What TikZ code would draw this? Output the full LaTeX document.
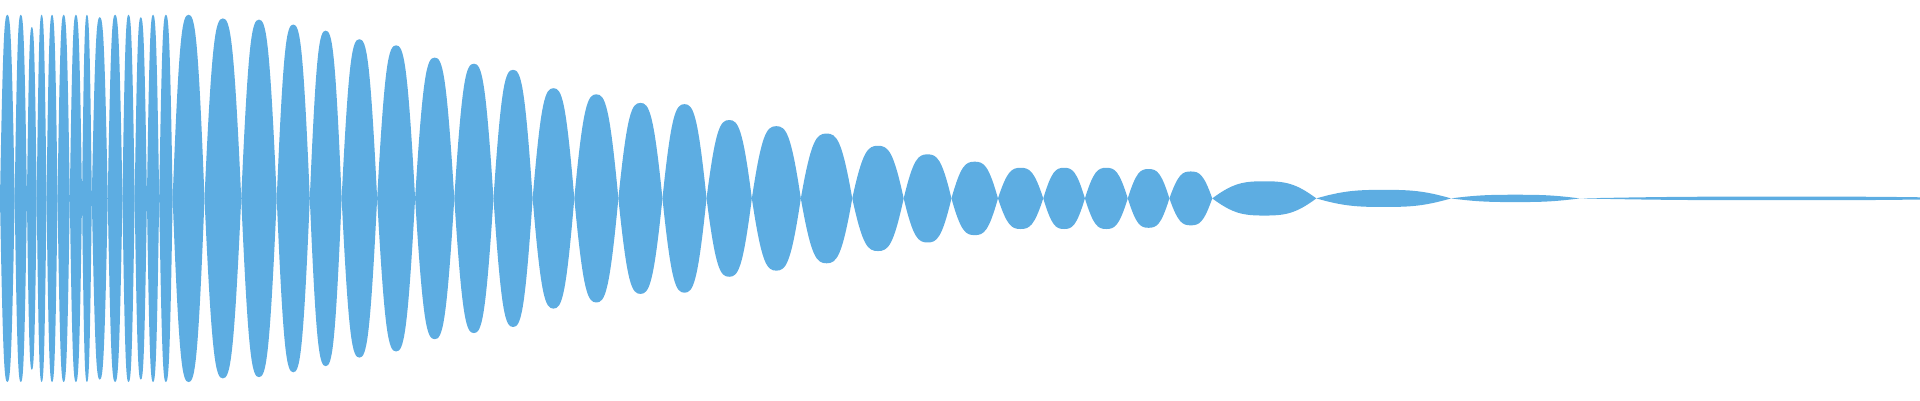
\documentclass[tikz,border=0pt]{standalone}
\usepackage{tikz}
\definecolor{wave}{HTML}{5DADE2}
\tikzset{lobe/.style={fill=wave}}

\begin{document}
\begin{tikzpicture}[x=0.1mm, y=0.1mm]
        % frame of the picture
        \useasboundingbox (0,0) rectangle (1920,400);

        % lobes of the decaying wave
        \begin{scope}[shift={(0,201.6)}, scale=1.2245]
            \foreach \a/\b/\h in {0/12/150, 12/22/150, 22/30/140, 30/38/150, 38/47/150,
                47/57/150, 57/67/150, 67/75/150, 75/88/148, 88/100/150, 100/110/150,
                110/120/148, 120/130/150, 130/141/150, 141/167/150, 167/197/147,
                197/226/146, 226/253/142, 253/279/137, 279/308/130, 308/339/125,
                339/371/115, 371/403/110, 403/435/105, 435/469/90, 469/505/85,
                505/541/78, 541/577/77, 577/614/64, 614/654/59, 654/696/53,
                696/738/43, 738/777/36, 777/815/30, 815/852/25, 852/886/25,
                886/921/25, 921/955/24, 955/990/22, 990/1075/14, 1075/1185/7,
                1185/1290/3, 1290/1620/1.5}
            {
                \pgfmathsetmacro{\m}{(\a+\b)/2}
                \pgfmathsetmacro{\q}{(\b-\a)/5}
                \fill[lobe] (\a,0) .. controls (\a+\q,0.9*\h) and (\m-\q,\h) .. (\m,\h)
                    .. controls (\m+\q,\h) and (\b-\q,0.9*\h) .. (\b,0)
                    .. controls (\b-\q,-0.9*\h) and (\m+\q,-\h) .. (\m,-\h)
                    .. controls (\m-\q,-\h) and (\a+\q,-0.9*\h) .. (\a,0) -- cycle;
            }
        \end{scope}
    \end{tikzpicture}
\end{document}
